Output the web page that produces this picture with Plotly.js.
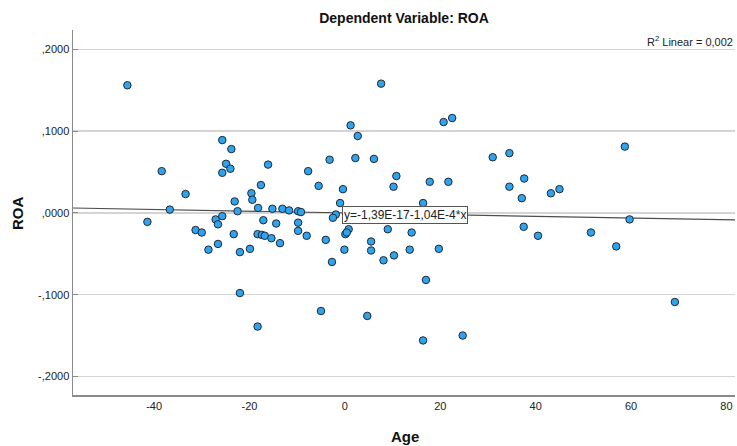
<!DOCTYPE html>
<html>
<head>
<meta charset="utf-8">
<script src="https://cdn.plot.ly/plotly-3.0.1.min.js"></script>
<style>html,body{margin:0;padding:0;background:#fff;}#chart{width:737px;height:446px;}</style>
</head>
<body>
<div id="chart"></div>
<script>
// Age (x) values of each firm
const age = [
  -45.6, -25.7, -23.8, -38.4, -24.9, -24.0, -25.7, -16.1, -17.6, -33.4,
  -19.6, -19.4, -23.1, -36.7, -22.5, -18.2, -15.2, -13.1, -11.7, -41.4,
  -25.7, -27.1, -26.6, -17.1, -14.4, -31.3, -30.0, -23.3, -18.3, -17.4,
  -16.8, -15.4, -13.6, -26.6, -28.6, -19.9, -22.0, -22.0, -18.3,
  7.6, 1.2, 2.7, 20.7, 22.5, -3.2, 2.2, 6.1, 31.0, -7.7,
  10.8, 10.2, 17.8, 21.7, -5.5, -0.4, -1.0, 16.4, -9.8, -9.2,
  -1.9, -2.5, -9.8, -9.8, -8.0, -4.0, 0.8, 0.1, 0.4, -0.1,
  -2.7, 9.0, 14.0, 5.5, 5.5, 8.1, 10.3, 13.6, 19.7, 17.0,
  -5.0, 4.7, 16.4, 24.7, 34.5, 34.5, 37.6, 37.1, 43.2, 45.0,
  58.7, 59.7, 37.5, 40.5, 51.6, 56.9, 69.2, 22.4
];
// ROA (y) values
const roa = [
  0.156, 0.089, 0.078, 0.051, 0.060, 0.054, 0.049, 0.059, 0.034, 0.023,
  0.024, 0.016, 0.014, 0.004, 0.002, 0.006, 0.005, 0.005, 0.003, -0.011,
  -0.004, -0.008, -0.014, -0.009, -0.013, -0.021, -0.024, -0.026, -0.026, -0.027,
  -0.028, -0.031, -0.037, -0.038, -0.045, -0.044, -0.048, -0.098, -0.139,
  0.158, 0.107, 0.094, 0.111, 0.116, 0.065, 0.067, 0.066, 0.068, 0.051,
  0.045, 0.032, 0.038, 0.038, 0.033, 0.029, 0.012, 0.012, 0.002, 0.001,
  -0.002, -0.006, -0.012, -0.022, -0.028, -0.033, -0.020, -0.026, -0.024, -0.045,
  -0.060, -0.020, -0.024, -0.035, -0.046, -0.058, -0.052, -0.045, -0.044, -0.082,
  -0.120, -0.126, -0.156, -0.150, 0.073, 0.032, 0.042, 0.018, 0.024, 0.029,
  0.081, -0.008, -0.017, -0.028, -0.024, -0.041, -0.109, -0.007
];
// Fit line: y = b0 + b1*x
const intercept = -1.39e-17;
const slope = -1.04e-4;
const fitX = [-57, 82];
const fitY = fitX.map(x => intercept + slope * x);

const xTicks = [-40, -20, 0, 20, 40, 60, 80];
const yTicks = [0.2, 0.1, 0, -0.1, -0.2];
const yTickText = [',2000', ',1000', ',0000', '-,1000', '-,2000'];

const traces = [
  {x: fitX, y: fitY, mode: 'lines', type: 'scatter',
   line: {color: '#4d4d4d', width: 1.2}, hoverinfo: 'skip'},
  {x: age, y: roa, mode: 'markers', type: 'scatter',
   marker: {size: 7.5, color: '#2fa3ee', line: {color: '#1f2a36', width: 1}}}
];

const layout = {
  width: 737, height: 446,
  margin: {l: 73, r: 2, t: 30, b: 51},
  paper_bgcolor: '#fff', plot_bgcolor: '#fff',
  showlegend: false,
  font: {family: 'Liberation Sans, Arial, sans-serif', size: 11, color: '#222'},
  title: {text: '<b>Dependent Variable: ROA</b>', font: {size: 14, color: '#111'},
          x: 0.5, xref: 'paper', y: 1 - 18/446, yanchor: 'middle'},
  xaxis: {range: [-57, 81.8], tickvals: xTicks, ticktext: xTicks.map(String),
          showgrid: false, zeroline: false, showline: true, linecolor: '#8a8a8a', linewidth: 2,
          ticks: '', tickfont: {size: 11, color: '#222'}},
  yaxis: {range: [-0.2227, 0.2236], tickvals: yTicks, ticktext: yTickText,
          showgrid: true, gridcolor: '#d4d4d4', gridwidth: 1.5, zeroline: false,
          showline: true, linecolor: '#8a8a8a', linewidth: 1.5,
          ticks: 'inside', ticklen: 5, tickcolor: '#8a8a8a', tickfont: {size: 11, color: '#222'}},
  annotations: [
    {text: '<b>Age</b>', xref: 'paper', yref: 'paper', x: (405-73)/662, y: (395-436)/365,
     showarrow: false, font: {size: 15, color: '#111'}, xanchor: 'center', yanchor: 'middle'},
    {text: '<b>ROA</b>', xref: 'paper', yref: 'paper', x: (17-73)/662, y: (395-213)/365,
     showarrow: false, textangle: -90, font: {size: 15, color: '#111'}, xanchor: 'center', yanchor: 'middle'},
    {text: 'R<sup>2</sup> Linear = 0,002', xref: 'paper', yref: 'paper', x: 1, y: (395-41)/365,
     showarrow: false, font: {size: 11, color: '#222'}, xanchor: 'right', yanchor: 'middle'},
    {text: 'y=-1,39E-17-1,04E-4*x', xref: 'x', yref: 'y', x: -0.7, y: -0.0022,
     showarrow: false, font: {size: 12, color: '#222'}, xanchor: 'left', yanchor: 'middle',
     bgcolor: '#fff', bordercolor: '#555', borderwidth: 1, borderpad: 1}
  ]
};

Plotly.newPlot('chart', traces, layout, {displayModeBar: false, staticPlot: true});
</script>
</body>
</html>
